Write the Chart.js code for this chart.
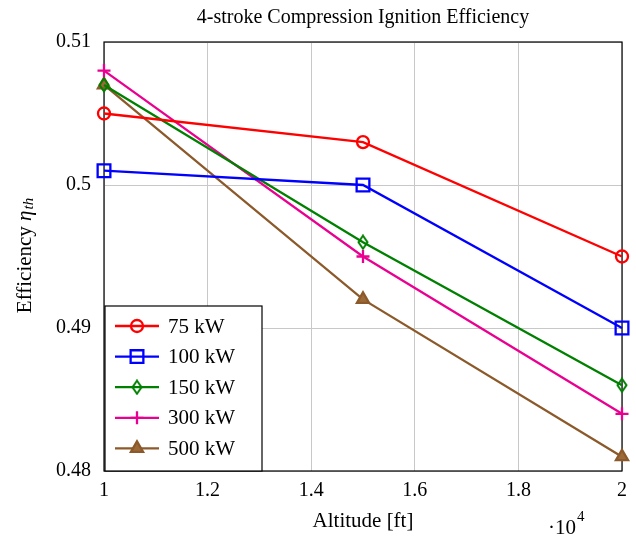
<!DOCTYPE html>
<html>
<head>
<meta charset="utf-8">
<script src="https://cdn.jsdelivr.net/npm/chart.js@4"></script>
<style>
  html, body { margin: 0; padding: 0; background: #fff; }
  #wrap { width: 636px; height: 538px; }
</style>
</head>
<body>
<div id="wrap"><canvas id="chart" width="636" height="538"></canvas></div>
<script>
// Altitude in ft, efficiency per engine power class
const altitudes = [10000, 15000, 20000];
const labels = ['75 kW', '100 kW', '150 kW', '300 kW', '500 kW'];
const eff75 = [0.505, 0.503, 0.495];
const eff100 = [0.501, 0.500, 0.490];
const eff150 = [0.507, 0.496, 0.486];
const eff300 = [0.508, 0.495, 0.484];
const eff500 = [0.507, 0.492, 0.481];
const yTicks = [0.48, 0.49, 0.50, 0.51];

const FONT = '"Liberation Serif", "DejaVu Serif", serif';

// thin diamond marker
function diamondMark(color) {
    const c = document.createElement('canvas');
    c.width = 12; c.height = 16;
    const g = c.getContext('2d');
    g.strokeStyle = color;
    g.lineWidth = 2;
    g.beginPath();
    g.moveTo(6, 1.5); g.lineTo(10.5, 8); g.lineTo(6, 14.5); g.lineTo(1.5, 8);
    g.closePath();
    g.stroke();
    return c;
}

function toPoints(values) {
    return altitudes.map((x, i) => ({ x: x, y: values[i] }));
}

const series = [
    { data: eff75, color: '#ff0000', style: 'circle', radius: 6, fill: 'rgba(0,0,0,0)' },
    { data: eff100, color: '#0000ff', style: 'rect', radius: 9, fill: 'rgba(0,0,0,0)' },
    { data: eff150, color: '#008000', style: diamondMark('#008000'), radius: 6, fill: 'rgba(0,0,0,0)' },
    { data: eff300, color: '#ea0090', style: 'cross', radius: 6.5, fill: 'rgba(0,0,0,0)' },
    { data: eff500, color: '#8c5a2a', style: 'triangle', radius: 7, fill: '#9c6a38' }
];

const datasets = series.map((s, i) => ({
    label: labels[i],
    data: toPoints(s.data),
    borderColor: s.color,
    backgroundColor: s.fill,
    borderWidth: 2.3,
    pointStyle: s.style,
    pointRadius: s.radius,
    pointBorderWidth: 2.3,
    pointBorderColor: s.color,
    pointBackgroundColor: s.fill,
    tension: 0,
    clip: false
}));

// title, axis labels, exponent and legend box
const annotations = {
    id: 'annotations',
    afterDraw(chart) {
        const ctx = chart.ctx;
        const area = chart.chartArea;
        ctx.save();
        ctx.fillStyle = '#000';
        ctx.textBaseline = 'middle';

        ctx.font = '20px ' + FONT;
        ctx.textAlign = 'center';
        ctx.fillText('4-stroke Compression Ignition Efficiency', (area.left + area.right) / 2, 18);

        ctx.font = '21px ' + FONT;
        ctx.fillText('Altitude [ft]', (area.left + area.right) / 2, 521);

        // ·10^4 multiplier
        ctx.textAlign = 'left';
        ctx.font = '21px ' + FONT;
        const mw = ctx.measureText('\u00b710').width;
        ctx.fillText('\u00b710', 548, 528);
        ctx.font = '15px ' + FONT;
        ctx.fillText('4', 548 + mw + 1, 517);

        // y label with subscript
        ctx.translate(25, 256);
        ctx.rotate(-Math.PI / 2);
        const main = 'Efficiency ';
        ctx.font = '21px ' + FONT;
        const w1 = ctx.measureText(main).width;
        ctx.font = 'italic 21px ' + FONT;
        const w2 = ctx.measureText('\u03b7').width;
        ctx.font = 'italic 15px ' + FONT;
        const w3 = ctx.measureText('th').width;
        let x = -(w1 + w2 + w3) / 2;
        ctx.font = '21px ' + FONT;
        ctx.fillText(main, x, 0);
        x += w1;
        ctx.font = 'italic 21px ' + FONT;
        ctx.fillText('\u03b7', x, 0);
        x += w2 + 1;
        ctx.font = 'italic 15px ' + FONT;
        ctx.fillText('th', x, 4);
        ctx.restore();

        // legend
        ctx.save();
        const bx = 105, by = 306, bw = 157, bh = area.bottom - 306;
        ctx.fillStyle = '#fff';
        ctx.fillRect(bx, by, bw, bh);
        ctx.strokeStyle = '#000';
        ctx.lineWidth = 1.2;
        ctx.strokeRect(bx, by, bw, bh);
        chart.data.datasets.forEach((ds, i) => {
            const y = 326 + i * 30.6;
            ctx.strokeStyle = ds.borderColor;
            ctx.lineWidth = 2.3;
            ctx.beginPath();
            ctx.moveTo(115, y);
            ctx.lineTo(159, y);
            ctx.stroke();
            ctx.fillStyle = ds.pointBackgroundColor;
            ctx.lineWidth = 2.3;
            Chart.helpers.drawPoint(ctx, {
                pointStyle: ds.pointStyle,
                radius: ds.pointRadius,
                borderWidth: 2.3,
                rotation: 0
            }, 137, y);
            ctx.fillStyle = '#000';
            ctx.font = '21px ' + FONT;
            ctx.textAlign = 'left';
            ctx.textBaseline = 'middle';
            ctx.fillText(ds.label, 168, y + 1);
        });
        ctx.restore();
    }
};

// black frame around the plot area
const frame = {
    id: 'frame',
    beforeDatasetsDraw(chart) {
        const a = chart.chartArea;
        const ctx = chart.ctx;
        ctx.save();
        ctx.strokeStyle = '#000';
        ctx.lineWidth = 1.2;
        ctx.strokeRect(a.left, a.top, a.right - a.left, a.bottom - a.top);
        ctx.restore();
    }
};

new Chart(document.getElementById('chart'), {
    type: 'line',
    data: { datasets: datasets },
    options: {
        responsive: false,
        animation: false,
        layout: { padding: { top: 42, right: 14, left: 0, bottom: 0 } },
        plugins: {
            legend: { display: false },
            title: { display: false },
            tooltip: { enabled: false }
        },
        scales: {
            x: {
                type: 'linear',
                min: 10000,
                max: 20000,
                afterFit: s => { s.height = 67; },
                grid: { color: '#c8c8c8', tickLength: 0, drawTicks: false },
                border: { display: false },
                ticks: {
                    stepSize: 2000,
                    padding: 8,
                    color: '#000',
                    font: { family: FONT, size: 20 },
                    callback: v => String(Math.round(v / 1000) / 10)
                }
            },
            y: {
                min: 0.48,
                max: 0.51,
                afterFit: s => { s.width = 104; },
                afterBuildTicks: s => { s.ticks = yTicks.map(v => ({ value: v })); },
                grid: { color: '#c8c8c8', drawTicks: false },
                border: { display: false },
                ticks: {
                    padding: 13,
                    color: '#000',
                    font: { family: FONT, size: 20 },
                    callback: v => String(Math.round(v * 100) / 100)
                }
            }
        }
    },
    plugins: [frame, annotations]
});
</script>
</body>
</html>
